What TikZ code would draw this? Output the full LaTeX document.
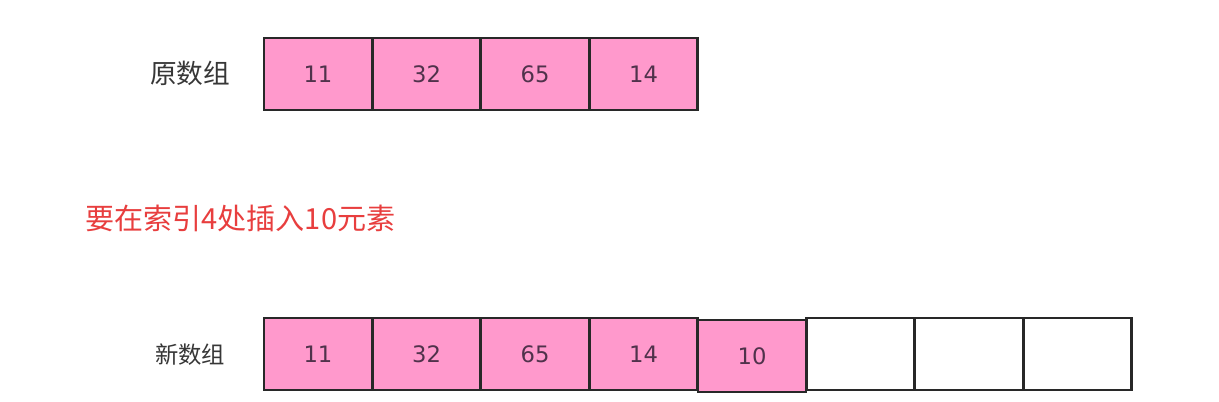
\documentclass[tikz,border=0pt]{standalone}
\usepackage{fontspec}
\setmainfont{Noto Sans CJK SC}
\newfontfamily\cjk{Noto Sans CJK SC}
\newfontfamily\numfont{DejaVu Sans}
\definecolor{cellpink}{RGB}{255,153,204}
\definecolor{numcol}{RGB}{80,50,75}
\definecolor{labelcol}{RGB}{55,55,55}
\definecolor{redtxt}{RGB}{232,62,62}
\definecolor{edge}{RGB}{40,40,40}
\begin{document}
\begin{tikzpicture}[x=0.75pt,y=-0.75pt,
  cell/.style={draw=edge,line width=2pt,fill=cellpink,minimum width=81pt,minimum height=54pt,inner sep=0pt,outer sep=0pt,anchor=north west,font=\numfont\fontsize{17}{18}\selectfont,text=numcol},
  empty/.style={cell,fill=white},
  lbl/.style={font=\cjk\fontsize{20}{22}\selectfont,text=labelcol,anchor=center}]
\useasboundingbox (0,0) rectangle (1219,401);
\fill[white] (0,0) rectangle (1219,401);
% original array
\node[cell] (a1) at (264,38) {11};
\node[cell] (a2) at (372.5,38) {32};
\node[cell] (a3) at (481,38) {65};
\node[cell] (a4) at (589.5,38) {14};
\node[lbl] (la) at (190,73) {原数组};
% title
\node[font=\cjk\fontsize{21.8}{24}\selectfont,text=redtxt,anchor=west,inner sep=0pt] (t) at (85,218) {要在索引4处插入10元素};
% new array
\node[cell] (b1) at (264,318) {11};
\node[cell] (b2) at (372.5,318) {32};
\node[cell] (b3) at (481,318) {65};
\node[cell] (b4) at (589.5,318) {14};
\node[cell] (b5) at (698,320) {10};
\node[empty] (b6) at (806.5,318) {};
\node[empty] (b7) at (915,318) {};
\node[empty] (b8) at (1023.5,318) {};
\node[lbl,font=\cjk\fontsize{17.5}{19}\selectfont] (lb) at (190,355) {新数组};
\end{tikzpicture}
\end{document}
